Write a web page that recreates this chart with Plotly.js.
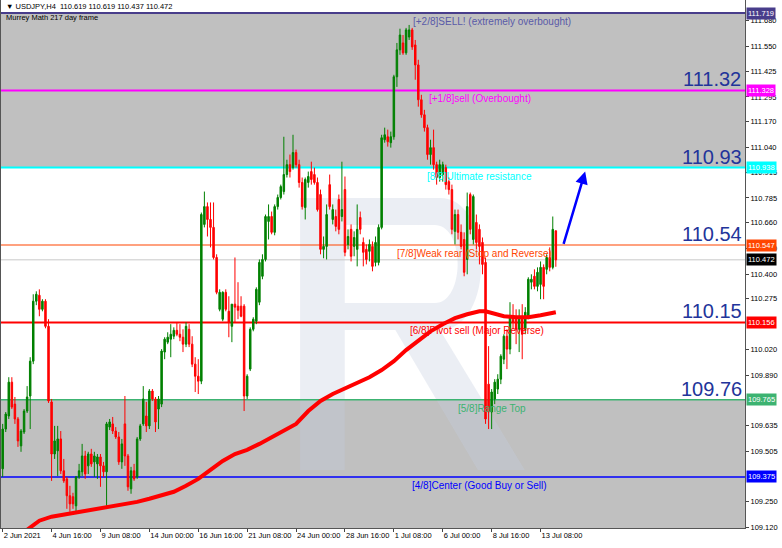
<!DOCTYPE html>
<html><head><meta charset="utf-8">
<script src="https://cdn.plot.ly/plotly-3.0.1.min.js"></script>
<style>html,body{margin:0;padding:0;background:#fff;}#chart{width:782px;height:548px;}</style>
</head><body><div id="chart"></div>
<script>
const open = [109.416,109.617,109.683,109.854,109.743,109.668,109.532,109.602,109.708,109.784,
109.960,110.263,110.293,110.222,110.263,110.136,109.754,109.491,109.507,109.567,
109.406,109.365,109.280,109.275,109.229,109.375,109.401,109.481,109.431,109.491,
109.451,109.441,109.476,109.431,109.401,109.627,109.643,109.607,109.577,109.451,
109.643,109.481,109.315,109.406,109.375,109.567,109.643,109.683,109.633,109.809,
109.769,109.718,109.743,110.006,110.056,110.071,110.086,110.116,110.096,110.081,
110.046,110.121,110.046,109.945,109.884,109.859,110.651,110.741,110.676,110.636,
110.484,110.222,110.172,110.308,110.212,110.136,110.248,110.238,110.238,110.238,
109.784,109.920,110.121,110.162,110.258,110.389,110.474,110.666,110.691,110.611,
110.741,110.787,110.817,110.903,110.953,110.938,111.014,110.953,110.863,110.736,
110.863,110.918,110.903,110.863,110.802,110.525,110.540,110.852,110.676,110.691,
110.777,110.691,110.827,110.550,110.626,110.540,110.525,110.686,110.560,110.525,
110.515,110.540,110.459,110.459,110.636,111.079,111.094,111.064,111.094,111.397,
111.533,111.568,111.518,111.598,111.634,111.558,111.457,111.281,111.205,111.140,
111.004,111.039,110.953,110.888,110.903,110.938,110.867,110.827,110.616,110.701,
110.611,110.575,110.474,110.802,110.575,110.661,110.626,110.560,110.459,109.844,
109.703,109.769,109.819,109.869,109.970,110.086,110.021,110.187,110.172,110.121,
110.187,110.121,110.187,110.359,110.389,110.338,110.348,110.434,110.424,110.484,
110.434,110.619];
const high = [109.643,109.703,109.879,109.879,109.779,109.678,109.617,109.718,109.834,109.980,
110.298,110.313,110.323,110.273,110.273,110.172,109.769,109.633,109.633,109.607,
109.466,109.375,109.330,109.295,109.380,109.441,109.542,109.507,109.502,109.517,
109.502,109.491,109.491,109.451,109.653,109.668,109.678,109.627,109.602,109.567,
109.784,109.491,109.426,109.441,109.577,109.643,109.834,109.754,109.819,109.819,
109.779,109.784,110.021,110.081,110.106,110.147,110.131,110.157,110.147,110.121,
110.157,110.147,110.086,109.980,109.970,110.711,110.817,110.762,110.762,110.762,
110.500,110.323,110.313,110.323,110.288,110.248,110.484,110.359,110.288,110.248,
109.894,110.131,110.182,110.333,110.474,110.500,110.701,110.752,110.716,110.752,
110.802,110.852,111.094,110.978,111.004,111.104,111.029,110.978,110.888,110.888,
110.918,110.968,110.938,110.888,110.827,110.590,110.752,110.903,110.752,110.726,
110.802,110.968,110.893,110.626,110.651,110.616,110.752,110.716,110.585,110.550,
110.575,110.565,110.590,110.651,111.104,111.140,111.130,111.120,111.407,111.568,
111.640,111.608,111.644,111.659,111.644,111.583,111.483,111.306,111.230,111.155,
111.079,111.130,110.968,110.978,110.968,110.953,110.888,110.852,110.726,110.726,
110.651,110.611,110.812,110.812,110.802,110.701,110.651,110.585,110.484,110.036,
109.819,109.869,109.894,109.995,110.096,110.121,110.258,110.248,110.222,110.222,
110.248,110.233,110.384,110.399,110.424,110.434,110.464,110.449,110.500,110.535,
110.691,110.619];
const low = [109.375,109.602,109.668,109.718,109.643,109.527,109.502,109.592,109.698,109.617,
109.945,110.243,110.187,110.212,110.126,109.749,109.355,109.466,109.380,109.390,
109.345,109.214,109.199,109.214,109.199,109.365,109.380,109.365,109.390,109.426,
109.375,109.365,109.325,109.375,109.229,109.612,109.592,109.567,109.436,109.416,
109.431,109.305,109.290,109.355,109.365,109.557,109.633,109.602,109.617,109.759,
109.602,109.617,109.728,109.970,110.046,109.980,110.071,110.086,110.061,110.006,
110.031,110.031,109.930,109.804,109.794,109.844,110.636,110.590,110.535,110.474,
110.298,110.212,110.162,110.212,110.081,110.056,110.157,110.172,110.182,109.708,
109.769,109.910,110.111,110.147,110.243,110.374,110.464,110.575,110.601,110.596,
110.726,110.777,110.802,110.888,110.888,110.928,110.938,110.837,110.726,110.676,
110.837,110.852,110.852,110.716,110.500,110.480,110.474,110.726,110.651,110.616,
110.601,110.666,110.490,110.525,110.464,110.490,110.439,110.601,110.439,110.449,
110.464,110.414,110.439,110.444,110.626,111.064,111.044,111.039,111.079,111.346,
111.508,111.508,111.508,111.583,111.533,111.382,111.246,111.190,111.120,110.978,
110.953,110.928,110.852,110.867,110.867,110.827,110.802,110.601,110.550,110.575,
110.525,110.389,110.399,110.601,110.550,110.525,110.449,110.399,109.643,109.617,
109.617,109.743,109.794,109.844,109.945,109.920,109.995,110.121,110.046,110.006,
109.970,110.096,110.172,110.323,110.323,110.313,110.273,110.273,110.399,110.414,
110.424,110.437];
const close = [109.617,109.693,109.854,109.728,109.668,109.557,109.607,109.708,109.779,109.960,
110.263,110.298,110.222,110.263,110.136,109.759,109.491,109.557,109.567,109.406,
109.355,109.280,109.239,109.239,109.375,109.406,109.481,109.390,109.491,109.441,
109.481,109.476,109.431,109.401,109.643,109.653,109.607,109.577,109.451,109.542,
109.481,109.325,109.406,109.365,109.567,109.633,109.769,109.633,109.809,109.769,
109.653,109.769,110.011,110.071,110.081,110.096,110.116,110.096,110.081,110.046,
110.136,110.046,109.945,109.884,109.859,110.701,110.741,110.676,110.636,110.484,
110.308,110.308,110.308,110.222,110.157,110.248,110.233,110.217,110.187,109.784,
109.884,110.121,110.172,110.323,110.459,110.474,110.691,110.691,110.611,110.741,
110.787,110.842,110.903,110.953,110.918,111.014,110.953,110.863,110.741,110.878,
110.893,110.878,110.863,110.726,110.525,110.540,110.701,110.741,110.726,110.641,
110.626,110.726,110.510,110.590,110.490,110.585,110.626,110.626,110.510,110.474,
110.550,110.439,110.560,110.636,111.089,111.104,111.069,111.094,111.397,111.533,
111.608,111.518,111.634,111.634,111.548,111.457,111.281,111.205,111.140,111.004,
111.039,110.953,110.888,110.953,110.953,110.852,110.827,110.626,110.701,110.611,
110.540,110.409,110.741,110.626,110.792,110.560,110.540,110.449,109.668,109.703,
109.804,109.854,109.869,109.985,110.086,110.021,110.187,110.157,110.121,110.187,
110.096,110.207,110.374,110.374,110.338,110.409,110.434,110.338,110.484,110.434,
110.626,110.472];

const maIndex = [8,12,16,20,24,28,32,36,40,44,48,52,56,60,64,68,72,76,80,84,88,92,96,100,104,108,112,116,120,124,128,132,136,140,144,148,152,156,158,160,164,168,172,176,180,181];
const maValue = [109.108,109.154,109.174,109.184,109.194,109.204,109.214,109.224,109.234,109.249,109.265,109.280,109.300,109.330,109.365,109.411,109.456,109.491,109.512,109.542,109.577,109.607,109.643,109.708,109.759,109.794,109.824,109.849,109.879,109.915,109.960,110.016,110.066,110.111,110.147,110.177,110.197,110.212,110.212,110.202,110.187,110.182,110.182,110.192,110.202,110.207];

const xTickIndex = [0,16,32,48,64,80,96,112,128,144,160,176];
const xTickText = ['2 Jun 2021','4 Jun 16:00','9 Jun 08:00','14 Jun 00:00','16 Jun 16:00','21 Jun 08:00','24 Jun 00:00','28 Jun 16:00','1 Jul 08:00','6 Jul 00:00','8 Jul 16:00','13 Jul 08:00'];
const yTicks = [111.680,111.550,111.425,111.295,111.170,111.040,110.915,110.785,110.660,110.530,110.400,110.275,110.020,109.890,109.635,109.505,109.250,109.120];

const levelValues = [111.719,111.328,110.938,110.547,110.156,109.765,109.375];
const levelNames = ['[+2/8]SELL! (extremely overbought)','[+1/8]sell (Overbought)','[8/8]Ultimate resistance','[7/8]Weak rear (Stop and Reverse)','[6/8]Pivot sell (Major Reverse)','[5/8]Range Top','[4/8]Center (Good Buy or Sell)'];
const levelColors = ['#483D8B','#FF00FF','#00FFFF','#FF4500','#FF0000','#3CB371','#0000FF'];
const levelWidths = [2,2,2,1.2,2,1.5,1.5];
const bigLabels = ['','111.32','110.93','110.54','110.15','109.76',''];
const currentPrice = 110.472;
const header = '\u25BC USDJPY,H4  110.619 110.619 110.437 110.472';
const subHeader = 'Murrey Math 217 day frame';

const idx = open.map((_, i) => i);
const FONT = 'Liberation Sans, Arial, sans-serif';

const traces = [
  {type:'candlestick', x: idx, open: open, high: high, low: low, close: close,
   increasing:{line:{color:'#008000', width:1}, fillcolor:'#008000'},
   decreasing:{line:{color:'#FF0000', width:1}, fillcolor:'#FF0000'},
   whiskerwidth:0, hoverinfo:'skip', showlegend:false},
  {type:'scatter', mode:'lines', x: maIndex, y: maValue, line:{color:'#FF0000', width:4},
   hoverinfo:'skip', showlegend:false}
];

const logoFill = 'rgba(196,205,224,0.34)';
const shapes = [
  {type:'rect', xref:'paper', x0:0, x1:1, yref:'y', y0:levelValues[2], y1:levelValues[0], fillcolor:'#C0C0C0', line:{width:0}, layer:'below'},
  {type:'rect', xref:'paper', x0:0, x1:1, yref:'y', y0:108.9, y1:levelValues[5], fillcolor:'#C0C0C0', line:{width:0}, layer:'below'},
  {type:'rect', xref:'paper', yref:'paper', x0:0.402, x1:0.462, y0:0.110, y1:0.625, fillcolor:logoFill, line:{width:0}, layer:'below'},
  {type:'path', xref:'paper', yref:'paper', fillrule:'evenodd', layer:'below', fillcolor:logoFill, line:{width:0},
   path:'M 0.462 0.625 L 0.590 0.625 C 0.664 0.625 0.664 0.375 0.590 0.375 L 0.462 0.375 Z M 0.462 0.574 L 0.583 0.574 C 0.624 0.574 0.624 0.426 0.583 0.426 L 0.462 0.426 Z'},
  {type:'path', xref:'paper', yref:'paper', layer:'below', fillcolor:logoFill, line:{width:0},
   path:'M 0.530 0.375 L 0.590 0.375 L 0.704 0.110 L 0.641 0.110 Z'},
  {type:'line', xref:'paper', x0:0, x1:1, yref:'y', y0:currentPrice, y1:currentPrice, line:{color:'#C8C8C8', width:1}, layer:'below'}
];
levelValues.forEach((v, k) => {
  shapes.push({type:'line', xref:'paper', x0:0, x1:1, yref:'y', y0:v, y1:v, line:{color:levelColors[k], width:levelWidths[k]}, layer:'below'});
});

const annotations = [];
const labelCenters = [0.66,0.644,0.643,0.636,0.64,0.66,0.643];
levelValues.forEach((v, k) => {
  annotations.push({xref:'paper', x:labelCenters[k], xanchor:'center', yref:'y', y:v, yanchor:'top', yshift:-1, text:levelNames[k], showarrow:false,
    font:{family:FONT, size:10, color: k===0 ? '#5A5AA8' : levelColors[k]}});
  if (bigLabels[k]) {
    annotations.push({xref:'paper', x:0.955, xanchor:'center', yref:'y', y:v, yanchor:'middle', yshift:11, text:bigLabels[k], showarrow:false,
      font:{family:FONT, size:20, color:'#22349A'}});
  }
  annotations.push({xref:'paper', x:1, xanchor:'left', xshift:1, yref:'y', y:v, yanchor:'middle', text:v.toFixed(3), showarrow:false,
    bgcolor: levelColors[k], borderpad:1, font:{family:FONT, size:7.5, color:'#FFFFFF'}});
});
annotations.push({xref:'paper', x:1, xanchor:'left', xshift:1, yref:'y', y:currentPrice, yanchor:'middle', text:currentPrice.toFixed(3), showarrow:false,
  bgcolor:'#000000', borderpad:1, font:{family:FONT, size:7.5, color:'#FFFFFF'}});
annotations.push({xref:'paper', x:0, xanchor:'left', xshift:3, yref:'paper', y:1, yanchor:'top', yshift:0, text:header, showarrow:false,
  font:{family:FONT, size:7.5, color:'#000000'}});
annotations.push({xref:'paper', x:0, xanchor:'left', xshift:3, yref:'paper', y:1, yanchor:'top', yshift:-11, text:subHeader, showarrow:false,
  font:{family:FONT, size:7.5, color:'#000000'}});
annotations.push({xref:'x', yref:'y', x:190.6, y:110.918, axref:'x', ayref:'y', ax:183.4, ay:110.545,
  showarrow:true, arrowhead:2, arrowsize:1, arrowwidth:2.5, arrowcolor:'#0000FF', text:''});

const layout = {
  width:782, height:548,
  margin:{l:1, r:37, t:0, b:20},
  paper_bgcolor:'#FFFFFF', plot_bgcolor:'#FFFFFF',
  showlegend:false,
  xaxis:{range:[-0.55, 242.9], rangeslider:{visible:false}, tickmode:'array', tickvals:xTickIndex, ticktext:xTickText,
    tickangle:0, ticks:'outside', ticklen:3, tickcolor:'#444', showgrid:false, zeroline:false, showline:true, linecolor:'#555', linewidth:1,
    ticklabelposition:'outside right', tickfont:{family:FONT, size:7.5, color:'#000'}, fixedrange:true},
  yaxis:{side:'right', range:[109.117, 111.785], tickmode:'array', tickvals:yTicks, ticktext:yTicks.map(v=>v.toFixed(3)),
    ticks:'outside', ticklen:3, tickcolor:'#444', showgrid:false, zeroline:false, showline:true, linecolor:'#555', linewidth:1, mirror:true,
    tickfont:{family:FONT, size:7.5, color:'#000'}, fixedrange:true},
  shapes: shapes,
  annotations: annotations
};
Plotly.newPlot('chart', traces, layout, {staticPlot:true, displayModeBar:false});
</script></body></html>
